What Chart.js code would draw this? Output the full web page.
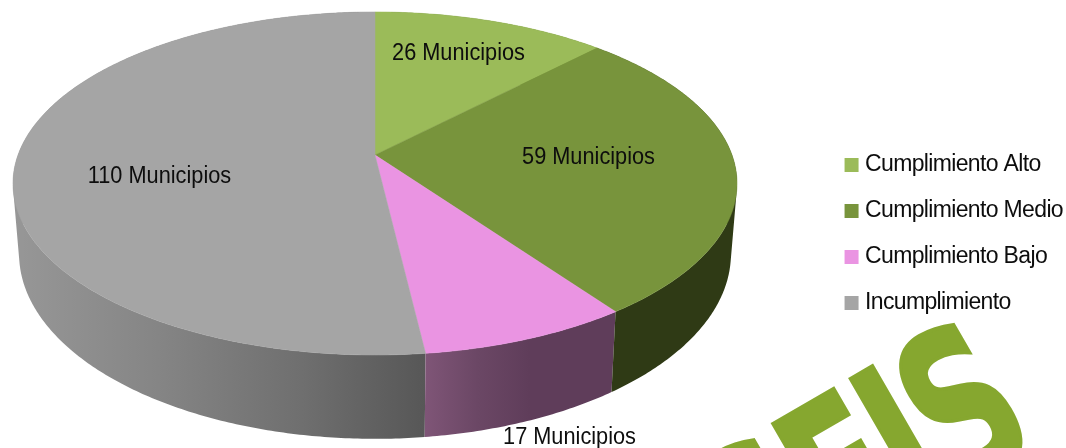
<!DOCTYPE html>
<html><head><meta charset="utf-8">
<style>html,body{margin:0;padding:0;background:#fff}canvas{display:block}</style>
<script src="https://cdn.jsdelivr.net/npm/chart.js@4"></script>
</head><body><canvas id="c" width="1066" height="448"></canvas>
<script>
const categories = ["Cumplimiento Alto","Cumplimiento Medio","Cumplimiento Bajo","Incumplimiento"];
const municipios = [26,59,17,110];
const sliceColors = ["#9bbb59","#78943c","#ea94e2","#a5a5a5"];
const unit = "Municipios";
const watermark = "SEIS";

const FAMILY = '"Liberation Sans", Arial, sans-serif';
const LEGEND_SPACING = '-0.65px';
// perspective view of the pie: top face and lower rim
const TOP = {cx:375, cy:155, sx:357, py:166.8, c:-0.166};
const LOW = {cx:375, cy:223, sx:351, py:180, c:-0.166};
const project = (v,theta,r=1)=>{
  const X=Math.sin(theta)*r, Y=-Math.cos(theta)*r, d=1+v.c*Y;
  return [v.cx+v.sx*X/d, v.cy+v.py*Y/d];
};
const wallFill = (ctx,i)=>{
  const g=(a,b,s)=>{const l=ctx.createLinearGradient(a,0,b,0);s.forEach(([t,c])=>l.addColorStop(t,c));return l;};
  if(i===3) return g(14,425,[[0,"#979797"],[.35,"#858585"],[.7,"#6f6f6f"],[1,"#575757"]]);
  if(i===2) return g(425,530,[[0,"#7f5577"],[.5,"#6b4765"],[1,"#5f3d5a"]]);
  if(i===1) return "#2f3a15";
  return "#5f7a30";
};
const labelOffsets = [[84,-103],[214,1],[195,281],[-215,20]];

const pie3d = {
  id:'pie3d',
  beforeUpdate(chart){ chart.ctx.letterSpacing = LEGEND_SPACING; },
  afterLayout(chart){ chart.legend.left+=7; chart.legend.right+=7; },
  beforeDatasetsDraw(chart){
    const ctx=chart.ctx, arcs=chart.getDatasetMeta(0).data;
    const range=(a)=>{
      const t0=a.startAngle+Math.PI/2, t1=a.endAngle+Math.PI/2, n=Math.max(2,Math.ceil((t1-t0)/0.01)), out=[];
      for(let k=0;k<=n;k++) out.push(t0+(t1-t0)*k/n);
      return out;
    };
    ctx.save();
    // watermark
    ctx.save();
    ctx.letterSpacing='-6px';
    ctx.translate(773,422); ctx.rotate(-Math.PI/6); ctx.scale(1,1.5);
    ctx.font='bold 140px "DejaVu Sans", sans-serif';
    ctx.fillStyle='#86a72f'; ctx.strokeStyle='#86a72f'; ctx.lineWidth=2.5; ctx.lineJoin='miter';
    ctx.textAlign='left'; ctx.textBaseline='alphabetic';
    ctx.fillText(watermark,-109,103);
    ctx.strokeText(watermark,-109,103);
    ctx.restore();
    ctx.letterSpacing='0px';
    // side wall: same-winding quads in one path, so the band has no seams
    [3,0,2,1].forEach(i=>{
      const ts=range(arcs[i]);
      ctx.beginPath();
      for(let k=0;k<ts.length-1;k++){
        const q=[project(TOP,ts[k]),project(TOP,ts[k+1]),project(LOW,ts[k+1]),project(LOW,ts[k])];
        let area=0;
        q.forEach((p,j)=>{const n=q[(j+1)%4]; area+=p[0]*n[1]-n[0]*p[1];});
        if(area<0) q.reverse();
        ctx.moveTo(q[0][0],q[0][1]);
        for(let j=1;j<4;j++) ctx.lineTo(q[j][0],q[j][1]);
        ctx.closePath();
      }
      ctx.fillStyle=wallFill(ctx,i);
      ctx.fill('nonzero');
    });
    // top face
    arcs.forEach((a,i)=>{
      const ts=range(a);
      ctx.beginPath();
      ctx.moveTo(TOP.cx,TOP.cy);
      ts.forEach(t=>{const p=project(TOP,t); ctx.lineTo(p[0],p[1]);});
      ctx.closePath();
      ctx.fillStyle=sliceColors[i]; ctx.strokeStyle=sliceColors[i]; ctx.lineWidth=0.5;
      ctx.fill(); ctx.stroke();
    });
    // labels, slightly condensed like the original type
    ctx.font='23.5px '+FAMILY; ctx.fillStyle='#0d0d0d'; ctx.textAlign='center'; ctx.textBaseline='middle';
    municipios.forEach((v,i)=>{
      ctx.save();
      ctx.translate(TOP.cx+labelOffsets[i][0]-0.5, TOP.cy+labelOffsets[i][1]+2);
      ctx.scale(0.925,1);
      ctx.fillText(v+' '+unit,0,0);
      ctx.restore();
    });
    ctx.restore();
    return false;
  }
};

new Chart(document.getElementById('c'),{
  type:'pie',
  data:{labels:categories,datasets:[{data:municipios,backgroundColor:sliceColors,borderWidth:0}]},
  plugins:[pie3d],
  options:{
    responsive:false,animation:false,
    layout:{padding:{top:20,right:0,left:0,bottom:0}},
    plugins:{
      tooltip:{enabled:false},
      legend:{position:'right',align:'center',labels:{
        usePointStyle:true,pointStyle:'rect',boxWidth:4,boxHeight:14,
        padding:23,color:'#0d0d0d',font:{family:FAMILY,size:23}
      }}
    }
  }
});
</script></body></html>
